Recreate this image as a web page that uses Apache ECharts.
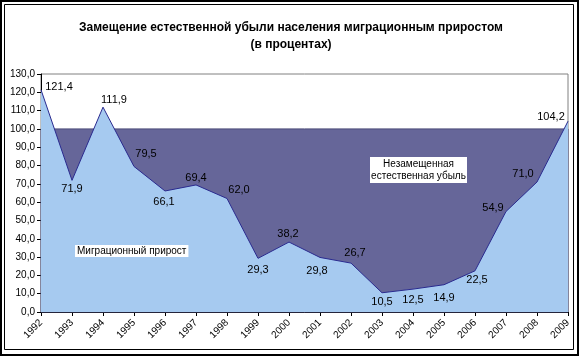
<!DOCTYPE html>
<html><head><meta charset="utf-8">
<script src="https://cdn.jsdelivr.net/npm/echarts@6/dist/echarts.min.js"></script>
<style>html,body{margin:0;padding:0;background:#fff}#c{width:582px;height:358px}</style>
</head><body><div id="c"></div>
<script>
const categories = ['1992','1993','1994','1995','1996','1997','1998','1999','2000','2001','2002','2003','2004','2005','2006','2007','2008','2009'];
const migrationShare = [121.4,71.9,111.9,79.5,66.1,69.4,62.0,29.3,38.2,29.8,26.7,10.5,12.5,14.9,22.5,54.9,71.0,104.2];
const fullReplacement = 100;
const yTicks = {min:0, max:130, interval:10};
// label placement (pixel offsets from each point) - layout only
const labelOffsets = [[18,-3],[0,9],[11,-7],[12,-12],[-1,11],[0,-7],[12,-9],[0,12],[-1,-8],[-3,14],[4,-10],[0,9],[0,11],[0,13],[2,9],[-13,-4],[-14,-8],[-17,-4]];

const fmt = v => v.toFixed(1).replace('.', ',');
const chart = echarts.init(document.getElementById('c'));
const F = 'Arial, "Liberation Sans", sans-serif';
chart.setOption({
  animation:false,
  backgroundColor:'#fff',
  title:{text:'Замещение естественной убыли населения миграционным приростом\n(в процентах)',
    left:'center', top:14, textStyle:{fontFamily:F,fontSize:12,fontWeight:'bold',color:'#000',lineHeight:17}},
  grid:{left:41,right:14,top:74,bottom:46,show:true,borderColor:'#808080',borderWidth:1,backgroundColor:'transparent'},
  xAxis:{type:'category',data:categories,boundaryGap:false,
    axisLine:{lineStyle:{color:'#000',width:1}},
    axisTick:{show:true,alignWithLabel:true,length:4,lineStyle:{color:'#000'}},
    axisLabel:{rotate:45,fontFamily:F,fontSize:10,color:'#000',margin:9,interval:0},
    splitLine:{show:false}},
  yAxis:{type:'value',min:yTicks.min,max:yTicks.max,interval:yTicks.interval,
    axisLine:{show:true,lineStyle:{color:'#000',width:1}},
    axisTick:{show:true,length:4,lineStyle:{color:'#000'}},
    axisLabel:{fontFamily:F,fontSize:10,color:'#000',margin:6,formatter:v=>fmt(v)},
    splitLine:{show:false}},
  series:[
    {type:'line',name:'base',data:migrationShare,z:1,symbol:'none',silent:true,
      lineStyle:{opacity:0},
      markArea:{silent:true,itemStyle:{color:'#666699',borderColor:'#4a4a78',borderWidth:1},
        data:[[{yAxis:0},{yAxis:fullReplacement}]]}},
    {type:'line',name:'Миграционный прирост',z:3,
      data:migrationShare.map((v,i)=>({value:v,label:{offset:labelOffsets[i]}})),
      symbol:'circle',symbolSize:0.1,showSymbol:true,itemStyle:{color:'rgba(0,0,0,0)'},
      lineStyle:{color:'#2a2a8f',width:1},
      areaStyle:{color:'#A6CAF0',opacity:1},
      label:{show:true,position:'inside',fontFamily:F,fontSize:11,color:'#000',formatter:p=>fmt(p.value)}}
  ],
  graphic:[
    {type:'rect',shape:{x:1,y:1,width:577,height:354},style:{fill:'none',stroke:'#000',lineWidth:2},z:100},
    {type:'rect',shape:{x:4.5,y:4.5,width:569,height:345},style:{fill:'none',stroke:'#000',lineWidth:1},z:100},
    {type:'rect',shape:{x:370,y:157,width:97,height:26},style:{fill:'#fff'},z:49},
    {type:'text',x:418.5,y:158,z:50,style:{text:'Незамещенная\nестественная убыль',fontFamily:F,fontSize:10,fill:'#000',
      align:'center',lineHeight:12}},
    {type:'text',left:75,top:245,z:50,style:{text:'Миграционный прирост',fontFamily:F,fontSize:10,fill:'#000',
      backgroundColor:'#fff',padding:[1,2,1,2]}}
  ]
});
</script></body></html>
